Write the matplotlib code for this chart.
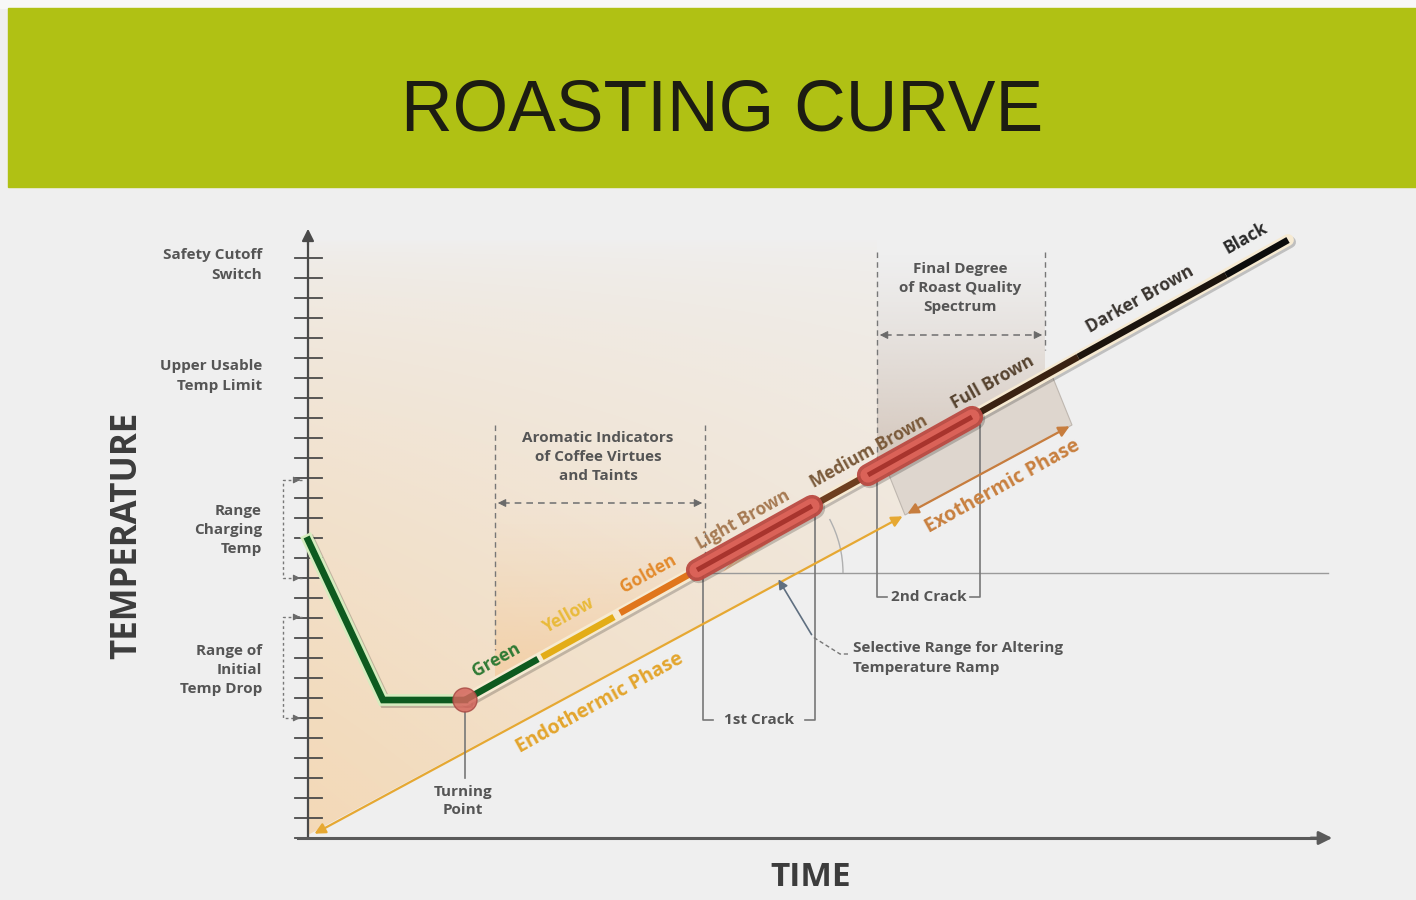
import matplotlib

matplotlib.use("Agg")
import matplotlib.pyplot as plt  # noqa: E402
import matplotlib.patheffects as pe  # noqa: E402
import numpy as np  # noqa: E402
from matplotlib.patches import Arc, Circle, Polygon, Rectangle  # noqa: E402

plt.rcParams["font.family"] = ["Open Sans", "DejaVu Sans"]

# chart units: time to the right of the origin, temperature above it
charge_time = [0, 75, 157]
charge_temp = [298, 138, 138]
ramp_time = [157, 980]
ramp_temp = [138, 598]

stage_names = ["Green", "Yellow", "Golden", "Light Brown", "Medium Brown",
               "Full Brown", "Darker Brown", "Black"]
stage_time = [(157, 230), (234, 306), (312, 389), (389, 504), (504, 612),
              (612, 770), (770, 918), (918, 980)]
stage_temp = [(138, 179), (181, 221), (225, 268), (268, 332), (332, 392),
              (392, 481), (481, 563), (563, 598)]
stage_colors = ["#0d5a1f", "#e3ad17", "#e0761c", "#b5452f", "#6e3f1f",
                "#3a2212", "#1c140d", "#0c0c0c"]
label_colors = ["#2f7a34", "#e9ba3a", "#e38a2c", "#a67a52", "#7a5a3a",
                "#56432f", "#3a3530", "#2a2a2a"]
label_time = [188, 261, 340, 435, 561, 685, 832, 938]
label_temp = [178, 223, 264, 318, 386, 456, 539, 600]

capsule_time = [(389, 504), (560, 664)]
capsule_temp = [(268, 332), (363, 421)]

endo_time = [4, 597]
endo_temp = [3, 323]
exo_time = [597, 764]
exo_temp = [323, 413]
exo_box = [(577, 373), (597, 323), (764, 413), (745, 460)]

tick_temps = list(range(0, 600, 20))

left_labels = ["Safety Cutoff\nSwitch", "Upper Usable\nTemp Limit",
               "Range\nCharging\nTemp", "Range of\nInitial\nTemp Drop"]
left_label_temp = [573, 462, 308, 168]
bracket_ranges = [(260, 358), (120, 221)]

fig = plt.figure(figsize=(14.16, 9), dpi=100, facecolor="#efefef")
ax = fig.add_axes([0, 0, 1, 1])
ax.set_xlim(-308, 1108)
ax.set_ylim(-62, 838)
ax.axis("off")

GRAY = "#555555"
TXT = dict(fontsize=11, fontweight="bold", color=GRAY)

# banner
ax.add_patch(Rectangle((-308, 830), 1416, 10, color="#f8f8f8", zorder=0))
ax.add_patch(Rectangle((-300, 651), 1408, 179, color="#b0c114", zorder=1))
ax.text(414, 726, "ROASTING CURVE", family=["Liberation Sans", "DejaVu Sans"],
        fontsize=51.5, color="#1c1c12", ha="center", va="center", zorder=2)


def gradient(extent, rgb, alpha_fn, clip):
    tt, TT = np.meshgrid(np.linspace(0, 1, 200), np.linspace(0, 1, 200))
    img = np.zeros((200, 200, 4))
    img[..., :3] = np.array(rgb) / 255
    img[..., 3] = alpha_fn(tt, TT)
    im = ax.imshow(img, extent=extent, origin="lower", zorder=1.5,
                   interpolation="bilinear", aspect="auto")
    poly = Polygon(clip, closed=True, transform=ax.transData, facecolor="none")
    im.set_clip_path(poly)


gradient((0, 600, 0, 600), (244, 214, 176),
         lambda x, y: 0.9 * np.clip(1 - y, 0, 1) ** 0.6 * (1 - 0.5 * x),
         [(0, 3), (597, 323), (577, 373), (569, 380), (569, 600), (0, 600)])
gradient((187, 397, 150, 335), (246, 194, 138),
         lambda x, y: 0.55 * np.clip(1 - y, 0, 1) ** 1.3,
         [(187, 335), (397, 335), (397, 268), (187, 155)])
gradient((569, 737, 360, 586), (200, 180, 164),
         lambda x, y: 0.75 * np.clip(1 - y, 0, 1) ** 1.2,
         [(569, 586), (737, 586), (737, 465), (569, 371)])

ax.add_patch(Polygon(exo_box, closed=True, facecolor="#dbd2c9", edgecolor="#b8b0a8",
                     lw=0.8, alpha=0.85, zorder=2))

# axes
ax.plot([0, 0], [0, 600], color="#4a4a4a", lw=1.6, zorder=3)
ax.annotate("", xy=(0, 612), xytext=(0, 590),
            arrowprops=dict(arrowstyle="-|>", color="#4a4a4a", lw=1.5, mutation_scale=18))
for T in tick_temps:
    ax.plot([-13, 14], [T, T], color="#4a4a4a", lw=1.3, zorder=3)
ax.plot([-10, 1010], [0, 0], color="#5a5a5a", lw=2.2, zorder=3)
ax.annotate("", xy=(1027, 0), xytext=(1000, 0),
            arrowprops=dict(arrowstyle="-|>", color="#5a5a5a", lw=2, mutation_scale=20))

ax.text(-181, 303, "TEMPERATURE", rotation=90, fontsize=25, fontweight="bold",
        color="#3c3c3c", ha="center", va="center")
ax.text(503, -40, "TIME", fontsize=24, fontweight="bold", color="#3c3c3c",
        ha="center", va="center")

for text, T in zip(left_labels, left_label_temp):
    ax.text(-46, T, text, ha="right", va="center", linespacing=1.5, **TXT)


def head(tip, frm, color="#6a6a6a", size=10):
    ax.annotate("", xy=tip, xytext=frm,
                arrowprops=dict(arrowstyle="-|>", color=color, lw=0.8, mutation_scale=size),
                zorder=4)


for lo, hi in bracket_ranges:
    ax.plot([-6, -25, -25, -6], [hi, hi, lo, lo], color="#777", lw=1, ls=(0, (2, 2)), zorder=3)
    head((-5, hi), (-12, hi))
    head((-5, lo), (-12, lo))

# dashed boxes
for tx, top, bottoms, arrow_T, text, center, text_T in [
    ((187, 397), 413, (188, 285), 335, "Aromatic Indicators\nof Coffee Virtues\nand Taints", 290, 381),
    ((569, 737), 586, (370, 488), 503, "Final Degree\nof Roast Quality\nSpectrum", 652, 550),
]:
    for x, b in zip(tx, bottoms):
        ax.plot([x, x], [top, b], color="#777", lw=1, ls=(0, (4, 3)), zorder=3)
    ax.plot([tx[0] + 8, tx[1] - 8], [arrow_T, arrow_T], color="#777", lw=1.2,
            ls=(0, (4, 3)), zorder=3)
    head((tx[0], arrow_T), (tx[0] + 10, arrow_T), size=12)
    head((tx[1], arrow_T), (tx[1] - 10, arrow_T), size=12)
    ax.text(center, text_T, text, ha="center", va="center", linespacing=1.5,
            zorder=4, **TXT)

# crack brackets
for (l, lt), (r, rt), base, text in [((395, 268), (507, 330), 118, "1st Crack"),
                                     ((569, 363), (672, 413), 241, "2nd Crack")]:
    ax.plot([l, l, l + 10], [lt, base, base], color="#777", lw=1.2, zorder=3)
    ax.plot([r, r, r - 10], [rt, base, base], color="#777", lw=1.2, zorder=3)
    ax.text((l + r) / 2, base, text, ha="center", va="center", zorder=4, **TXT)

ax.plot([395, 1020], [265, 265], color="#9a9a9a", lw=1, zorder=2)
ax.add_patch(Arc((420, 265), 230, 230, theta1=0, theta2=28, color="#b0b0b0", lw=1, zorder=2))

# fan from first crack
fan_pts = [(430, 283), (450, 294), (470, 305), (490, 316), (505, 325)]
fan_cols = ["#f5a860", "#f7c089", "#f39a50", "#f8c898", "#f2a565"]
for (ft, fT), c in zip(fan_pts, fan_cols):
    ax.add_patch(Polygon([(415, 266), (ft, fT), (ft + 12, fT + 6)], closed=True,
                         facecolor=c, edgecolor="none", alpha=0.7, zorder=4))

# phase arrows
ax.annotate("", xy=(endo_time[0], endo_temp[0]), xytext=(endo_time[1], endo_temp[1]),
            arrowprops=dict(arrowstyle="<|-|>", color="#e6a832", lw=1.6, mutation_scale=16),
            zorder=3)
ax.annotate("", xy=(exo_time[0], exo_temp[0]), xytext=(exo_time[1], exo_temp[1]),
            arrowprops=dict(arrowstyle="<|-|>", color="#c77d3e", lw=1.6, mutation_scale=16),
            zorder=3)
ax.text(292, 135, "Endothermic Phase", rotation=29, fontsize=14, fontweight="bold",
        color="#e3a52d", ha="center", va="center", rotation_mode="anchor", zorder=4)
ax.text(695, 352, "Exothermic Phase", rotation=29, fontsize=14, fontweight="bold",
        color="#c8803f", ha="center", va="center", rotation_mode="anchor", zorder=4)

# roasting curve
shadow = [pe.SimpleLineShadow(offset=(1.5, -1.5), alpha=0.2), pe.Normal()]
ax.plot(charge_time, charge_temp, color="#d6ecbf", lw=8.5, solid_joinstyle="miter",
        zorder=5, path_effects=shadow)
ax.plot(charge_time, charge_temp, color="#0d5a1f", lw=4.8, solid_joinstyle="miter", zorder=5.1)
ax.plot(ramp_time, ramp_temp, color="#f6ead2", lw=8.5, solid_capstyle="round",
        zorder=5, path_effects=shadow)
for (t0, t1), (T0, T1), c in zip(stage_time, stage_temp, stage_colors):
    ax.plot([t0, t1], [T0, T1], color=c, lw=4.8, solid_capstyle="butt", zorder=5.2)

for (t0, t1), (T0, T1) in zip(capsule_time, capsule_temp):
    ax.plot([t0, t1], [T0, T1], color="#bb4a42", lw=16, solid_capstyle="round",
            alpha=0.95, zorder=6, path_effects=shadow)
    ax.plot([t0, t1], [T0, T1], color="#da6258", lw=11, solid_capstyle="round", zorder=6.1)
    ax.plot([t0, t1], [T0, T1], color="#a8342d", lw=3.5, solid_capstyle="butt", zorder=6.2)

for name, t, T, c in zip(stage_names, label_time, label_temp, label_colors):
    ax.text(t, T, name, rotation=29.2, rotation_mode="anchor", ha="center", va="center",
            fontsize=12.5, fontweight="bold", color=c, zorder=7)

# turning point
ax.add_patch(Circle((157, 138), 12, facecolor="#d3655c", edgecolor="#a84a44", lw=1,
                    alpha=0.85, zorder=6.5))
ax.plot([157, 157], [126, 60], color="#777", lw=1.2, zorder=3)
ax.text(155, 37, "Turning\nPoint", ha="center", va="center", linespacing=1.35, **TXT)

# selective range callout
ax.plot([540, 532, 505], [184, 184, 201], color="#777", lw=1, ls=(0, (3, 2)), zorder=4)
ax.annotate("", xy=(469, 261), xytext=(505, 201),
            arrowprops=dict(arrowstyle="-|>", color="#5f6f80", lw=1.2, mutation_scale=14),
            zorder=5)
ax.text(545, 180, "Selective Range for Altering\nTemperature Ramp", ha="left", va="center",
        linespacing=1.5, zorder=4, **TXT)

fig.savefig("out.png", dpi=100, facecolor=fig.get_facecolor())
